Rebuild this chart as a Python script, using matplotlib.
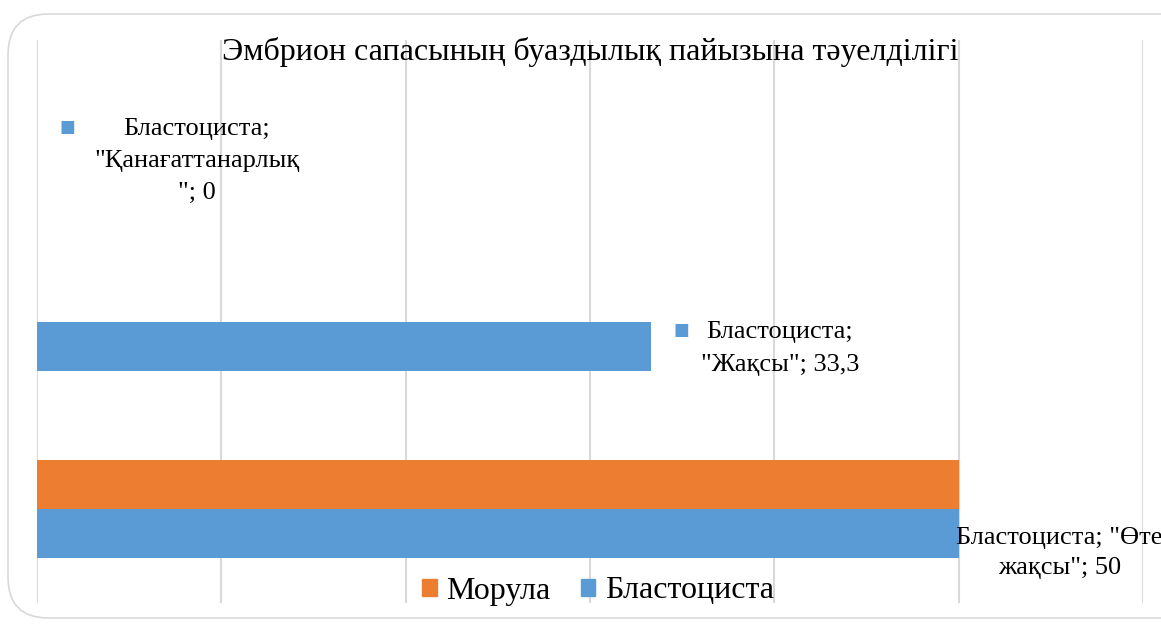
import matplotlib.pyplot as plt
from matplotlib.patches import FancyBboxPatch, Patch

plt.rcParams['font.family'] = ['Liberation Serif', 'DejaVu Serif']

categories = ['"Өте жақсы"', '"Жақсы"', '"Қанағаттанарлық"']
morula = [50, 0, 0]
blastocyst = [50, 33.3, 0]
blast_labels = ['Бластоциста; "Өте\nжақсы"; 50',
                'Бластоциста;\n"Жақсы"; 33,3',
                'Бластоциста;\n"Қанағаттанарлық\n"; 0']

c_blue = '#5B9BD5'
c_orange = '#ED7D31'

W, H = 1161, 624
fig = plt.figure(figsize=(W / 100, H / 100), dpi=100)

# rounded chart frame
frame = FancyBboxPatch((8 / W, 1 - 618 / H), 1.2, 604 / H,
                       boxstyle='round,pad=0,rounding_size=0.035',
                       transform=fig.transFigure, fill=False,
                       edgecolor='#d9d9d9', linewidth=1.2, mutation_aspect=W / H)
fig.patches.append(frame)

ax = fig.add_axes([37 / W, 1 - 603 / H, (1143 - 37) / W, (603 - 40) / H])
ax.set_xlim(0, 60)
ax.set_ylim(-0.5, 2.5)

h = 0.262
ypos = list(range(len(categories)))
ax.barh([y + h / 2 for y in ypos], morula, height=h, color=c_orange)
ax.barh([y - h / 2 for y in ypos], blastocyst, height=h, color=c_blue)

ax.set_xticks(range(0, 61, 10))
ax.grid(axis='x', color='#d9d9d9', linewidth=1.5)
ax.set_axisbelow(True)
ax.tick_params(length=0, labelbottom=False, labelleft=False)
for s in ax.spines.values():
    s.set_visible(False)

# data labels (offsets in pixels from value / category, y up)
offsets = [(101, -44), (129, -27), (160, -27)]
spacing = [1.5, 1.7, 1.6]
squares = [None, (31, -8), (30, 7)]
for i in range(len(categories)):
    ax.annotate(blast_labels[i], xy=(blastocyst[i], ypos[i]), xytext=offsets[i],
                textcoords='offset pixels', ha='center', va='center',
                fontsize=19, linespacing=spacing[i], annotation_clip=False)
    if squares[i] is not None:
        ax.annotate('■', xy=(blastocyst[i], ypos[i]), xytext=squares[i],
                    textcoords='offset pixels', ha='center', va='center',
                    fontsize=12, color=c_blue, family='DejaVu Sans',
                    annotation_clip=False)

fig.text(590 / W, 1 - 52 / H, 'Эмбрион сапасының буаздылық пайызына тәуелділігі',
         ha='center', va='center', fontsize=23)

handles = [Patch(color=c_orange, label='Морула'), Patch(color=c_blue, label='Бластоциста')]
fig.legend(handles=handles, loc='center', bbox_to_anchor=(598 / W, 1 - 591 / H),
           ncol=2, frameon=False, fontsize=23, handlelength=0.45, handleheight=0.45,
           handletextpad=0.3, columnspacing=0.95, borderpad=0)

fig.savefig('out.png', dpi=100)
